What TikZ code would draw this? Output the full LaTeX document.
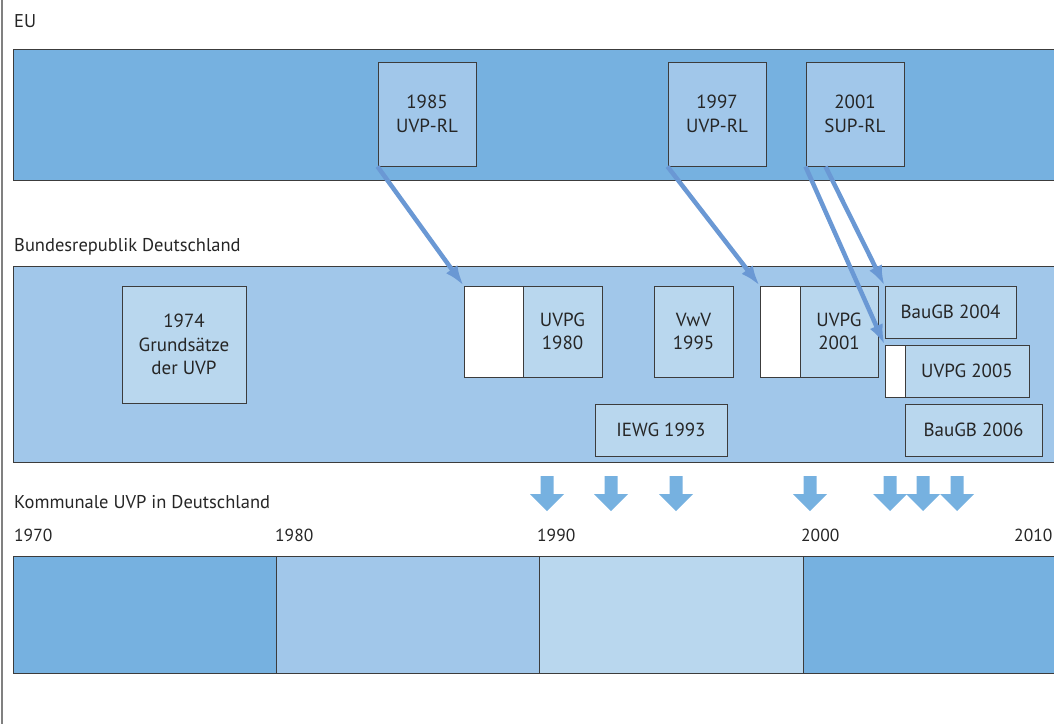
\documentclass[tikz,border=0pt]{standalone}
\usepackage{fontspec}
\setmainfont{PT Sans}
\usetikzlibrary{arrows.meta,positioning,calc}
\definecolor{bandDark}{HTML}{76B1E0}
\definecolor{bandMid}{HTML}{A1C7EA}
\definecolor{bandLight}{HTML}{B9D7EE}
\definecolor{linkBlue}{HTML}{6A98D4}
\definecolor{frameGray}{HTML}{3C3C3C}
\definecolor{textGray}{HTML}{262626}

\begin{document}
\begin{tikzpicture}[
        x=1pt, y=-1pt,
        band/.style={draw=frameGray, line width=1pt, rectangle, inner sep=0pt, anchor=north west},
        box/.style={draw=frameGray, line width=1pt, rectangle, inner sep=0pt, align=center,
            font=\fontsize{19}{23.5}\selectfont, text=textGray},
        lbl/.style={anchor=base west, inner sep=0pt, font=\fontsize{18.5}{22}\selectfont, text=textGray},
        year/.style={lbl, font=\fontsize{17.5}{21}\selectfont},
        link/.style={draw=linkBlue, line width=4.5pt, -{Latex[length=20pt,width=14pt]}}
    ]
        \useasboundingbox (0,0) rectangle (1054,724);
        \draw[gray, line width=1.5pt] (2,0) -- (2,724);

        % EU
        \node[lbl] (euLbl) at (14,27) {EU};
        \node[band, fill=bandDark, minimum width=1050pt, minimum height=131pt] (eu) at (13,49) {};
        \node[box, fill=bandMid, minimum width=98pt, minimum height=104pt] (rl85) at (427,114) {1985\\UVP-RL};
        \node[box, fill=bandMid, minimum width=98pt, minimum height=104pt] (rl97) at (717,114) {1997\\UVP-RL};
        \node[box, fill=bandMid, minimum width=98pt, minimum height=104pt] (sup01) at (855,114) {2001\\SUP-RL};

        % Bundesrepublik
        \node[lbl] (brdLbl) at (14,251) {Bundesrepublik Deutschland};
        \node[band, fill=bandMid, minimum width=1050pt, minimum height=196pt] (brd) at (13,266) {};
        \node[box, fill=bandLight, minimum width=124pt, minimum height=117pt] (grund74) at (184,344.5) {1974\\Grundsätze\\der UVP};
        \node[box, fill=white, minimum width=59pt, minimum height=91pt] (uvpg80w) at (493.5,331.5) {};
        \node[box, fill=bandLight, minimum width=79pt, minimum height=91pt] (uvpg80) at (562.5,331.5) {UVPG\\1980};
        \node[box, fill=bandLight, minimum width=79pt, minimum height=91pt] (vwv95) at (693.5,331.5) {VwV\\1995};
        \node[box, fill=bandLight, minimum width=132pt, minimum height=52pt] (iewg93) at (661,430) {IEWG 1993};
        \node[box, fill=white, minimum width=40pt, minimum height=91pt] (uvpg01w) at (780,331.5) {};
        \node[box, fill=bandLight, minimum width=78pt, minimum height=91pt] (uvpg01) at (839,331.5) {UVPG\\2001};
        \node[box, fill=bandLight, minimum width=131pt, minimum height=52pt] (bau04) at (950.5,312) {BauGB 2004};
        \node[box, fill=white, minimum width=20pt, minimum height=52pt] (uvpg05w) at (895,371) {};
        \node[box, fill=bandLight, minimum width=124pt, minimum height=52pt] (uvpg05) at (967,371) {UVPG 2005};
        \node[box, fill=bandLight, minimum width=137pt, minimum height=52pt] (bau06) at (973.5,430) {BauGB 2006};

        % Links EU -> BRD
        \draw[link] (rl85.south west) -- (uvpg80w.north west);
        \draw[link] (rl97.south west) -- (uvpg01w.north west);
        \draw[link] (sup01.south west) -- (uvpg05w.north west);
        \draw[link] ($(sup01.south west)+(20,0)$) -- (bau04.north west);

        % Kommunale UVP
        \node[lbl] (komLbl) at (14,508) {Kommunale UVP in Deutschland};
        \foreach \x in {547,611,676,810,890,923,957}
            \fill[bandDark] (\x-6.5,476) -- (\x+6.5,476) -- (\x+6.5,494) -- (\x+17,494)
                -- (\x,511) -- (\x-17,494) -- (\x-6.5,494) -- cycle;

        \node[year] (y70) at (14,541) {1970};
        \node[year] (y80) at (275,541) {1980};
        \node[year] (y90) at (537,541) {1990};
        \node[year] (y00) at (801,541) {2000};
        \node[year] (y10) at (1014,541) {2010};

        \node[band, fill=bandDark, minimum width=263pt, minimum height=117pt] (seg70) at (13,556) {};
        \node[band, fill=bandMid, minimum width=263pt, minimum height=117pt] (seg80) at (276,556) {};
        \node[band, fill=bandLight, minimum width=264pt, minimum height=117pt] (seg90) at (539,556) {};
        \node[band, fill=bandDark, minimum width=257pt, minimum height=117pt] (seg00) at (803,556) {};
    \end{tikzpicture}
\end{document}
